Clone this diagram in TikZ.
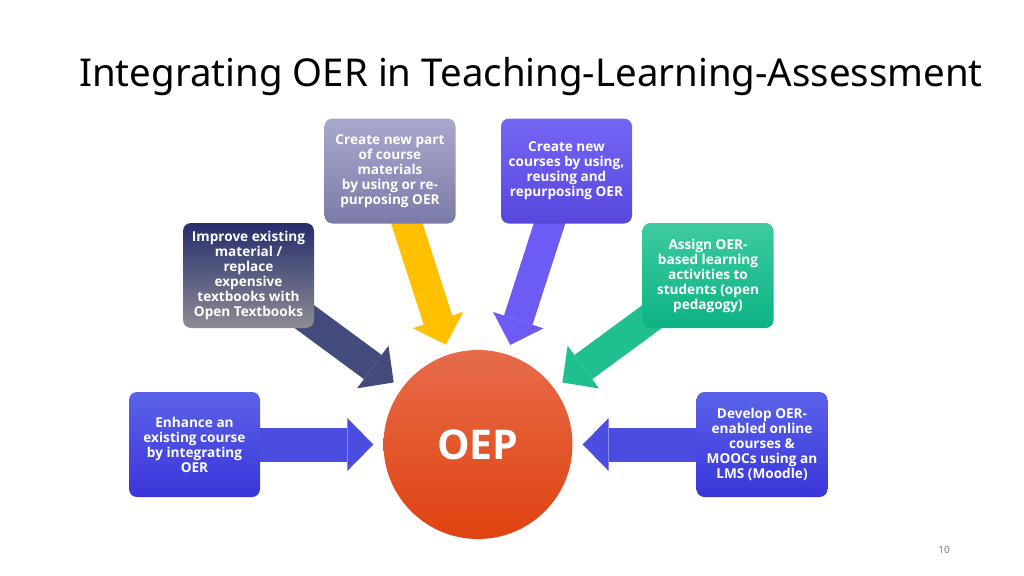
\documentclass[tikz,border=0pt]{standalone}
\usepackage{fontspec}
\setmainfont{Noto Sans}
\newfontfamily\labelfont{Open Sans}
\usetikzlibrary{%
	arrows.meta,%
	backgrounds,%
	shapes
}
\definecolor{enhtop}{HTML}{5B62E8}
\definecolor{enhbot}{HTML}{3A35DA}
\definecolor{imptop}{HTML}{262D6C}
\definecolor{impbot}{HTML}{8C8C94}
\definecolor{parttop}{HTML}{A9A9CE}
\definecolor{partbot}{HTML}{7B7BA8}
\definecolor{newtop}{HTML}{7666F6}
\definecolor{newbot}{HTML}{5646DC}
\definecolor{asgtop}{HTML}{3ECAA2}
\definecolor{asgbot}{HTML}{0CB283}
\definecolor{oeptop}{HTML}{E66C4A}
\definecolor{oepbot}{HTML}{E04210}
\definecolor{arrblue}{HTML}{4B4CE0}
\definecolor{arrnavy}{HTML}{434A7C}
\definecolor{arryellow}{HTML}{FFC000}
\definecolor{arrpurple}{HTML}{6C5CF5}
\definecolor{arrgreen}{HTML}{1FBF90}

\begin{document}
\begin{tikzpicture}[x=1pt,y=-1pt,
		practice/.style={rounded corners=8pt,minimum width=131pt,minimum height=105pt,
			inner sep=0pt,align=center,text=white,
			font=\labelfont\bfseries\fontsize{13.6}{15}\selectfont},
		feed/.style={draw=#1,line width=30pt,shorten >=10pt,
			-{Triangle[length=26pt,width=53pt,line width=0pt]}}
	]
	\useasboundingbox (0,0) rectangle (1024,575);
	\node[anchor=base,font=\fontsize{38.4}{46}\selectfont] (title) at (531,87)
		{Integrating OER in Teaching-Learning-Assessment};
	% the practices round the centre
	\node[practice,top color=enhtop,bottom color=enhbot] (enhance) at (194.5,444.5)
		{Enhance an\\existing course\\by integrating\\OER};
	\node[practice,top color=imptop,bottom color=impbot] (improve) at (248.5,275.5)
		{Improve existing\\material /\\replace\\expensive\\textbooks with\\Open Textbooks};
	\node[practice,top color=parttop,bottom color=partbot] (part) at (390,171)
		{Create new part\\of course\\materials\\by using or re-\\purposing OER};
	\node[practice,top color=newtop,bottom color=newbot] (newcourse) at (566.5,171)
		{Create new\\courses by using,\\reusing and\\repurposing OER};
	\node[practice,top color=asgtop,bottom color=asgbot] (assign) at (708,275.5)
		{Assign OER-\\based learning\\activities to\\students (open\\pedagogy)};
	\node[practice,top color=enhtop,bottom color=enhbot] (develop) at (762,444.5)
		{Develop OER-\\enabled online\\courses \&\\MOOCs using an\\LMS (Moodle)};
	\node[circle,minimum size=189pt,top color=oeptop,bottom color=oepbot,text=white,
		font=\labelfont\bfseries\fontsize{41}{48}\selectfont] (oep) at (478,444.5) {OEP};
	\node[text=gray,font=\fontsize{10}{12}\selectfont] (page) at (944,550) {10};
	\begin{pgfonlayer}{background}
		\draw (enhance.center) edge[feed=arrblue,line width=34pt] (oep)
		(improve.center) edge[feed=arrnavy] (oep)
		(part.center) edge[feed=arryellow] (oep)
		(newcourse.center) edge[feed=arrpurple] (oep)
		(assign.center) edge[feed=arrgreen] (oep)
		(develop.center) edge[feed=arrblue,line width=34pt] (oep);
	\end{pgfonlayer}
\end{tikzpicture}
\end{document}
